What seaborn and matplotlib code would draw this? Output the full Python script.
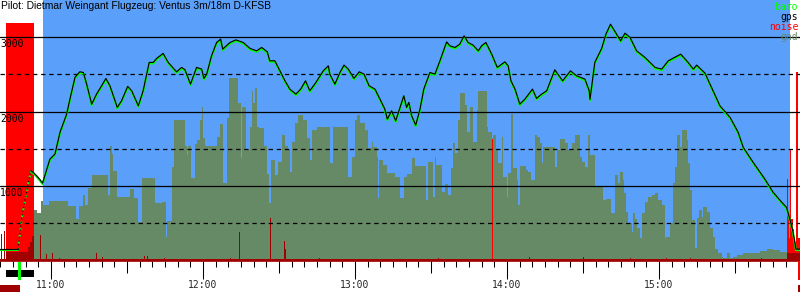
import matplotlib
matplotlib.use("Agg")
import matplotlib.pyplot as plt
import seaborn as sns
import pandas as pd
from matplotlib.patches import Rectangle
from matplotlib.transforms import blended_transform_factory

# ---------------- data (time = minutes after 10:00, altitude in m) ----------------
flight_t = [39.9, 47.0, 47.8, 48.4, 49.3, 50.4, 51.3, 52.1, 53.1, 54.4, 55.7, 56.7,
            59.6, 61.6, 63.6, 66.2, 67.5, 69.5, 71.4, 72.8, 74.1, 76.1, 78.0, 80.0,
            81.7, 83.3, 86.2, 87.9, 90.3, 91.9, 94.5, 96.4, 98.8, 100.4, 101.7, 104.3,
            106.3, 109.6, 111.6, 112.9, 115.1, 117.5, 119.5, 120.4, 121.5, 123.4, 125.4,
            127.0, 127.8, 130.7, 133.0, 135.9, 138.6, 141.2, 143.2, 145.4, 146.4, 148.4,
            150.4, 152.4, 154.3, 156.7, 158.6, 160.5, 162.2, 164.6, 167.5, 169.5, 170.1,
            172.1, 174.1, 175.7, 177.4, 179.6, 181.7, 183.6, 185.6, 187.9, 189.9, 191.8,
            192.8, 194.5, 196.1, 197.8, 199.3, 200.4, 201.3, 202.4, 204.0, 205.7, 207.2,
            209.6, 211.6, 213.8, 216.2, 217.5, 219.5, 221.4, 223.1, 224.7, 226.7, 228.7,
            230.0, 231.7, 234.0, 236.2, 239.2, 240.5, 241.6, 243.2, 245.1, 247.1, 250.1,
            251.7, 253.7, 255.7, 258.9, 262.0, 265.1, 267.5, 270.8, 272.5, 272.8, 274.7,
            277.4, 279.1, 280.9, 283.3, 284.9, 286.6, 288.6, 291.2, 294.5, 298.5, 301.1,
            303.7, 307.0, 308.6, 311.0, 313.6, 314.9, 318.2, 320.8, 324.1, 328.1, 331.3,
            333.3, 337.2, 341.8, 345.1, 349.1, 350.4, 351.7, 352.9, 354.1, 355.7]
baro_alt = [140, 140, 369, 544, 722, 902, 1080, 1192, 1170, 1125, 1072, 1027,
            1349, 1416, 1711, 1953, 2154, 2446, 2521, 2512, 2356, 2087, 2221, 2333,
            2432, 2333, 2043, 2132, 2325, 2266, 2064, 2266, 2647, 2647, 2700, 2768,
            2647, 2521, 2580, 2550, 2356, 2580, 2557, 2432, 2490, 2736, 2915,
            2960, 2826, 2915, 2950, 2915, 2835, 2803, 2848, 2790, 2669, 2669,
            2534, 2400, 2289, 2221, 2289, 2400, 2266, 2378, 2534, 2601, 2490,
            2356, 2512, 2611, 2557, 2432, 2521, 2490, 2333, 2289, 2154, 2020,
            1886, 1997, 1863, 2043, 2199, 2043, 2110, 1930, 1805, 2020, 2289,
            2512, 2490, 2691, 2923, 2870, 2848, 2893, 3004, 2915, 2879, 2803,
            2870, 2915, 2758, 2580, 2655, 2601, 2400, 2289, 2087, 2154, 2289,
            2164, 2221, 2266, 2548, 2400, 2534, 2467, 2423, 2266, 2150, 2647,
            2835, 3027, 3161, 3027, 2937, 3040, 2983, 2803, 2714, 2580, 2557,
            2669, 2728, 2758, 2669, 2557, 2611, 2503, 2311, 2064, 1909, 1707,
            1506, 1305, 1081, 902, 745, 700, 540, 380, 141, 140]
gps_alt = [152, 152, 380, 556, 735, 915, 1092, 1205, 1182, 1138, 1085, 1040,
           1362, 1430, 1724, 1966, 2168, 2460, 2535, 2526, 2370, 2100, 2235, 2347,
           2446, 2347, 2057, 2146, 2339, 2280, 2078, 2280, 2661, 2661, 2714, 2782,
           2661, 2535, 2594, 2564, 2370, 2594, 2571, 2446, 2504, 2750, 2929,
           2974, 2840, 2929, 2964, 2929, 2849, 2817, 2862, 2804, 2683, 2683,
           2548, 2414, 2303, 2235, 2303, 2414, 2280, 2392, 2548, 2615, 2504,
           2370, 2526, 2625, 2571, 2446, 2535, 2504, 2347, 2303, 2168, 2034,
           1900, 2011, 1877, 2057, 2213, 2057, 2124, 1944, 1819, 2034, 2303,
           2526, 2504, 2705, 2937, 2884, 2862, 2907, 3018, 2929, 2893, 2817,
           2884, 2929, 2772, 2594, 2669, 2615, 2414, 2303, 2101, 2168, 2303,
           2178, 2235, 2280, 2562, 2414, 2548, 2481, 2437, 2280, 2164, 2661,
           2849, 3041, 3175, 3041, 2951, 3054, 2997, 2817, 2728, 2594, 2571,
           2683, 2742, 2772, 2683, 2571, 2625, 2517, 2325, 2078, 1923, 1721,
           1520, 1319, 1095, 916, 759, 714, 554, 394, 153, 152]
takeoff_t = 47.0
release_t = 52.1

gnd_t = [39.9, 53.3, 54.4, 56.1, 56.7, 59.3, 66.6, 69.9, 71.2, 72.5, 73.4, 74.7, 76.1,
         82.6, 83.3, 84.0, 84.6, 86.2, 91.2, 92.8, 94.5, 95.8, 101.1, 103.7, 105.4,
         105.9, 107.6, 108.6, 112.9, 113.6, 114.2, 115.1, 116.8, 117.5, 118.8, 119.5,
         120.1, 120.8, 125.4, 126.7, 127.8, 129.6, 130.4, 133.9, 134.9, 135.5, 136.9,
         138.6, 139.2, 139.9, 140.5, 141.2, 142.2, 144.1, 145.4, 146.2, 146.8, 148.4,
         149.7, 151.1, 152.4, 153.7, 154.3, 155.0, 156.3, 157.6, 159.6, 160.9, 162.2,
         162.9, 164.9, 170.1, 171.4, 173.4, 177.4, 178.7, 180.0, 180.7, 182.0, 184.0,
         185.3, 186.6, 187.2, 188.6, 189.2, 189.6, 191.2, 192.5, 194.5, 195.8, 197.8,
         199.3, 200.6, 202.4, 203.7, 208.0, 208.9, 210.7, 211.6, 212.2, 214.2, 215.5,
         216.8, 217.8, 218.8, 219.5, 220.8, 221.4, 223.4, 224.1, 225.4, 226.7, 228.0,
         228.7, 232.0, 232.6, 234.0, 234.6, 235.7, 236.6, 237.9, 238.5, 239.9, 240.5,
         241.6, 242.5, 243.8, 244.5, 245.1, 247.5, 248.4, 249.7, 251.1, 251.7, 253.0,
         253.7, 254.3, 255.7, 258.9, 259.6, 260.9, 262.9, 264.2, 265.5, 266.8, 268.8,
         269.5, 270.8, 272.1, 272.8, 274.7, 278.0, 279.1, 280.9, 282.6, 283.9, 284.6,
         285.7, 286.3, 287.2, 287.9, 289.2, 289.9, 290.5, 291.2, 292.5, 293.2, 294.5,
         295.8, 297.1, 298.4, 299.7, 301.1, 302.4, 303.0, 304.3, 305.6, 306.3, 307.0,
         308.3, 309.0, 310.9, 311.6, 312.2, 312.9, 314.2, 314.9, 315.9, 316.9, 317.5,
         318.8, 320.1, 321.4, 322.1, 323.4, 324.8, 325.4, 326.7, 328.0, 329.3, 330.7,
         333.3, 339.9, 342.5, 345.1, 347.8, 350.9, 355.7]
gnd_v = [0, 678, 633, 799, 745, 799, 732, 557, 732, 879, 745, 969, 1148,
         879, 1537, 1430, 1200, 856, 960, 843, 521, 1103, 772, 790, 320,
         530, 1259, 1886, 1540, 1420, 1537, 1111, 1570, 1620, 1886, 2056,
         1640, 1537, 1660, 1832, 1044, 1909, 2446, 2110, 1372, 2056, 1483,
         1790, 2279, 2110, 2311, 1796, 1775, 1537, 1160, 776, 1349, 1148,
         1327, 1685, 1537, 1483, 1193, 1595, 1842, 1953, 1886, 1640, 1349,
         1752, 1788, 1305, 1796, 1788, 1125, 1394, 1886, 1953, 1842, 1752,
         1506, 1595, 1528, 1394, 835, 1349, 1282, 1170, 1180, 1125, 835,
         1125, 1161, 1372, 1268, 812, 1327, 857, 1394, 1282, 924, 1027,
         880, 1237, 1573, 1439, 1886, 2253, 2087, 1729, 2065, 1595, 2020,
         2279, 1796, 1729, 1349, 1680, 1483, 1305, 1662, 1125, 857, 1170,
         1966, 1237, 1080, 745, 1268, 1215, 1192, 1080, 1685, 1662, 1582,
         1305, 1528, 1520, 1260, 1483, 1627, 1573, 1483, 1573, 1685, 1394,
         1326, 1260, 1685, 1416, 991, 812, 820, 633, 1148, 1036, 1193,
         1080, 902, 656, 499, 387, 633, 552, 433, 298, 633, 790,
         857, 879, 902, 812, 745, 298, 320, 499, 1036, 1259, 1685,
         1528, 1752, 1618, 1305, 947, 544, 164, 566, 678, 589, 722,
         655, 432, 320, 150, 96, 50, 30, 96, 30, 45, 75,
         105, 130, 150, 135, 120, 0, 0]

noise_t = [39.9, 42.2, 53.3, 234.2, 234.6, 350.4, 351.0, 351.4, 351.7, 352.0,
           352.8, 353.5, 354.3, 355.1, 355.7]
noise_v = [0, 3190, 0, 1631, 0, 1100, 600, 300, 1480, 560,
           420, 250, 2534, 300, 300]

enl_t = [39.9, 40.1, 40.5, 41.3, 41.7, 42.2, 50.9, 51.7, 52.5, 53.3, 55.8, 56.2,
         58.0, 58.6, 60.5, 60.9, 63.3, 63.7, 77.9, 78.3, 80.2, 80.6, 96.8, 97.2,
         98.0, 98.4, 104.7, 105.1, 130.7, 131.1, 134.3, 134.7, 146.4, 146.8,
         152.0, 152.4, 152.8, 165.9, 166.3, 212.8, 213.2, 248.7, 249.1, 270.1,
         270.5, 288.5, 288.9, 302.8, 303.2, 312.3, 312.7, 340.3, 340.7, 350.6, 355.7]
enl_v = [15, 360, 15, 400, 15, 118, 180, 250, 330, 15, 342, 15,
         94, 15, 105, 15, 40, 15, 96, 15, 50, 15, 62, 15,
         62, 15, 40, 15, 40, 15, 380, 15, 566, 15,
         262, 161, 15, 40, 15, 40, 15, 50, 15, 50,
         15, 40, 15, 40, 15, 40, 15, 40, 15, 105, 105]

hour_ticks = [60, 120, 180, 240, 300]
hour_labels = ["11:00", "12:00", "13:00", "14:00", "15:00"]
half_ticks = [90, 150, 210, 270, 330]
alt_solid = [1000, 2000, 3000]
alt_dashed = [500, 1500, 2500]

flight_window = (56.8, 351.7)
engine_run = (42.2, 53.3)
takeoff_mark = (47.0, 48.2)
pre_flight = (39.9, 47.8)
landing_mark = (354.9, 355.7)
t_range = (39.9, 355.7)
alt_max = 3500

title = "Pilot: Dietmar Weingant Flugzeug: Ventus 3m/18m D-KFSB"
legend_items = [("baro", "#00ff00"), ("gps", "#000000"), ("noise", "#ff0000"), ("gnd", "#6a8a64")]

# ---------------- styling ----------------
BLUE = "#5a9ffa"
OLIVE = "#668a66"
RED = "#ff0000"
DARKRED = "#a00000"
GREEN = "#00ff00"
MONO = "DejaVu Sans Mono"

sns.set_style("white")
fig = plt.figure(figsize=(8, 3), dpi=100)
ax = fig.add_axes([0, 39.5 / 300, 1, 260.5 / 300])
ax.set_facecolor("white")

ax.axvspan(*flight_window, color=BLUE, lw=0, zorder=0)
ax.fill_between(gnd_t, gnd_v, step="post", color=OLIVE, lw=0, zorder=1)
ax.fill_between(noise_t, noise_v, step="post", color=RED, lw=0, zorder=2)
ax.fill_between(enl_t, enl_v, step="post", color=DARKRED, lw=0, zorder=3)

for lv in alt_solid:
    ax.axhline(lv, color="black", lw=0.9, zorder=4)
for lv in alt_dashed:
    ax.axhline(lv, color="black", lw=0.9, dashes=(3.5, 3), zorder=4)

df = pd.DataFrame({"t": flight_t, "baro": baro_alt, "gps": gps_alt})
segments = [
    (df[df.t <= takeoff_t], "-"),
    (df[(df.t >= takeoff_t) & (df.t <= release_t)], (0, (1, 2.2))),
    (df[df.t >= release_t], "-"),
]
for seg, ls in segments:
    sns.lineplot(data=seg, x="t", y="baro", color=GREEN, linewidth=1.5, linestyle=ls,
                 sort=False, estimator=None, legend=False, ax=ax, zorder=5)
    sns.lineplot(data=seg, x="t", y="gps", color="black", linewidth=0.85, linestyle=ls,
                 sort=False, estimator=None, legend=False, ax=ax, zorder=6)

ax.set_xlim(*t_range)
ax.set_ylim(0, alt_max)
ax.set_xlabel("")
ax.set_ylabel("")
ax.set_yticks([])

ax.set_xticks(hour_ticks, hour_labels)
ax.set_xticks(list(range(40, 356, 5)), minor=True)
ax.tick_params(axis="x", which="major", bottom=True, length=13, width=0.75, pad=1.2,
               labelsize=7, color="black", direction="out")
ax.tick_params(axis="x", which="minor", bottom=True, length=4.3, width=0.75,
               color="black", direction="out")
for lab in ax.get_xticklabels():
    lab.set_fontfamily(MONO)

sec = ax.secondary_xaxis("bottom")
sec.set_xticks(half_ticks)
sec.tick_params(axis="x", bottom=True, length=8.6, width=0.75, labelbottom=False,
                color="black", direction="out")
for s in sec.spines.values():
    s.set_visible(False)

for side in ["left", "right", "top"]:
    ax.spines[side].set_visible(False)
ax.spines["bottom"].set_color(DARKRED)
ax.spines["bottom"].set_linewidth(1.2)
ax.spines["bottom"].set_zorder(7)

ylab_tr = blended_transform_factory(ax.transAxes, ax.transData)
for lv in alt_solid:
    ax.annotate(str(lv), xy=(0, lv), xycoords=ylab_tr, xytext=(0, -1.5),
                textcoords="offset points", ha="left", va="top", fontsize=7,
                family=MONO, color="black", zorder=8)

# event markers below the time axis
mk_tr = blended_transform_factory(ax.transData, ax.transAxes)
def mark(span, y0, y1, color):
    ax.add_patch(Rectangle((span[0], y0), span[1] - span[0], y1 - y0, transform=mk_tr,
                           facecolor=color, edgecolor="none", clip_on=False, zorder=9))
mark(engine_run, -0.0622, -0.0365, "black")
mark(takeoff_mark, -0.0749, -0.0046, GREEN)
mark(pre_flight, -0.1198, -0.094, DARKRED)
mark(landing_mark, -0.0749, -0.002, RED)
mark(landing_mark, -0.1198, -0.094, DARKRED)

fig.text(0.001, 1 - 1.0 / 300, title, ha="left", va="top", fontsize=7.4,
         family="Liberation Sans", color="black")
for i, (name, col) in enumerate(legend_items):
    fig.text(798 / 800, 1 - (6.7 + 10 * i) / 300, name, ha="right", va="center",
             fontsize=7, family=MONO, color=col)

fig.savefig("out.png", dpi=100)
